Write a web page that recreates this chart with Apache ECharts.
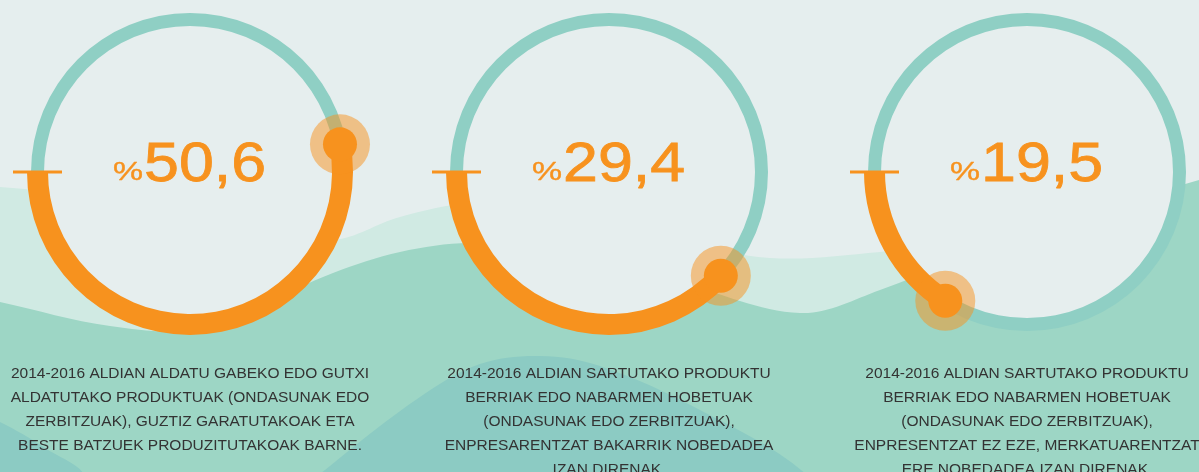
<!DOCTYPE html>
<html>
<head>
<meta charset="utf-8">
<script src="https://cdn.jsdelivr.net/npm/echarts@6/dist/echarts.min.js"></script>
<style>
  html, body { margin: 0; padding: 0; background: #e5eeee; }
  #main { width: 1199px; height: 472px; }
</style>
</head>
<body>
<div id="main"></div>
<script>
// values shown in the middle of each ring
var percentValues = [50.6, 29.4, 19.5];
// share of the ring covered by the orange arc, as drawn in the picture
var arcShare = [52.9, 38.1, 16.0];
// captions under each ring
var captions = [
	['2014-2016 ALDIAN ALDATU GABEKO EDO GUTXI',
	 'ALDATUTAKO PRODUKTUAK (ONDASUNAK EDO',
	 'ZERBITZUAK), GUZTIZ GARATUTAKOAK ETA',
	 'BESTE BATZUEK PRODUZITUTAKOAK BARNE.'],
	['2014-2016 ALDIAN SARTUTAKO PRODUKTU',
	 'BERRIAK EDO NABARMEN HOBETUAK',
	 '(ONDASUNAK EDO ZERBITZUAK),',
	 'ENPRESARENTZAT BAKARRIK NOBEDADEA',
	 'IZAN DIRENAK.'],
	['2014-2016 ALDIAN SARTUTAKO PRODUKTU',
	 'BERRIAK EDO NABARMEN HOBETUAK',
	 '(ONDASUNAK EDO ZERBITZUAK),',
	 'ENPRESENTZAT EZ EZE, MERKATUARENTZAT',
	 'ERE NOBEDADEA IZAN DIRENAK.']
];

var ORANGE = '#f7921e';
var TEAL = '#8fcfc4';
var FONT = '"Helvetica Neue", Helvetica, Arial, "Liberation Sans", sans-serif';
var centersX = [190, 609, 1027];
var cy = 172;

var myChart = echarts.init(document.getElementById('main'));

var polar = [], angleAxis = [], radiusAxis = [], series = [];
var graphic = [];

// background waves
graphic.push({
	type: 'polygon', z: -30, silent: true,
	shape: { smooth: 0.35, points: [[-60, 185], [0, 187], [120, 200], [260, 228], [333, 240], [400, 217], [470, 203],
		[560, 205], [680, 240], [770, 258], [880, 252], [1000, 238], [1060, 260], [1060, 600], [-60, 600]] },
	style: { fill: '#d0eae3' }
});
graphic.push({
	type: 'polygon', z: -29, silent: true,
	shape: { smooth: 0.35, points: [[-60, 290], [0, 302], [110, 326], [200, 328], [333, 273], [400, 252], [470, 243],
		[560, 250], [680, 282], [800, 313], [880, 290], [1026, 232], [1199, 180], [1260, 165], [1260, 600], [-60, 600]] },
	style: { fill: '#9dd6c5' }
});
graphic.push({
	type: 'polygon', z: -28, silent: true,
	shape: { smooth: 0.35, points: [[-60, 395], [0, 422], [45, 448], [85, 480], [40, 560], [-60, 560]] },
	style: { fill: '#8ccbc3' }
});
graphic.push({
	type: 'polygon', z: -28, silent: true,
	shape: { smooth: 0.35, points: [[300, 495], [330, 466], [420, 397], [480, 364], [540, 356], [600, 366], [700, 410], [808, 476], [820, 520], [300, 520]] },
	style: { fill: '#8ccbc3' }
});

centersX.forEach(function (cx, i) {
	// inner disc
	graphic.push({
		type: 'circle', z: -10, silent: true,
		shape: { cx: cx, cy: cy, r: 151 },
		style: { fill: '#e6eeee' }
	});

	var trackIdx = polar.length;
	polar.push({ center: [cx, cy], radius: [146, 159] });
	var arcIdx = polar.length;
	polar.push({ center: [cx, cy], radius: [142, 163] });
	[trackIdx, arcIdx].forEach(function (p) {
		angleAxis.push({ polarIndex: p, type: 'value', min: 0, max: 100, startAngle: 180, clockwise: false, show: false });
		radiusAxis.push({ polarIndex: p, type: 'category', data: ['a'], show: false });
	});

	series.push({
		type: 'bar', coordinateSystem: 'polar', polarIndex: trackIdx,
		data: [100], barCategoryGap: '0%', silent: true,
		itemStyle: { color: TEAL }
	});
	series.push({
		type: 'bar', coordinateSystem: 'polar', polarIndex: arcIdx,
		data: [arcShare[i]], barCategoryGap: '0%', silent: true,
		itemStyle: { color: ORANGE }
	});
	// start tick
	series.push({
		type: 'scatter', coordinateSystem: 'polar', polarIndex: arcIdx,
		data: [[0, 0]], symbol: 'rect', symbolSize: [49, 3], silent: true,
		itemStyle: { color: ORANGE, opacity: 1 }
	});
	// halo and end dot
	series.push({
		type: 'scatter', coordinateSystem: 'polar', polarIndex: arcIdx,
		data: [[0, arcShare[i]]], symbolSize: 60, silent: true,
		itemStyle: { color: 'rgba(247,146,30,0.5)', opacity: 1 }
	});
	series.push({
		type: 'scatter', coordinateSystem: 'polar', polarIndex: arcIdx,
		data: [[0, arcShare[i]]], symbolSize: 34, silent: true,
		itemStyle: { color: ORANGE, opacity: 1 }
	});

	// value text
	graphic.push({
		type: 'text', z: 50, silent: true, x: cx - 47, y: 173, scaleX: 1.3,
		style: { text: '%', fill: ORANGE, stroke: ORANGE, lineWidth: 0.4, font: '26px ' + FONT,
			textAlign: 'right', textVerticalAlign: 'middle' }
	});
	graphic.push({
		type: 'text', z: 50, silent: true, x: cx - 46, y: 166, scaleX: 1.12,
		style: { text: percentValues[i].toFixed(1).replace('.', ','), fill: ORANGE, stroke: ORANGE, lineWidth: 0.8,
			font: '56px ' + FONT, textAlign: 'left', textVerticalAlign: 'middle' }
	});
	// caption
	graphic.push({
		type: 'text', z: 50, silent: true, x: cx, y: 362,
		style: { text: captions[i].join('\n'), fill: '#333333', font: '15.5px ' + FONT,
			lineHeight: 24, textAlign: 'center', textVerticalAlign: 'top' }
	});
});

var option = {
	backgroundColor: '#e5eeee',
	animation: false,
	polar: polar,
	angleAxis: angleAxis,
	radiusAxis: radiusAxis,
	series: series,
	graphic: graphic
};
myChart.setOption(option);
</script>
</body>
</html>
